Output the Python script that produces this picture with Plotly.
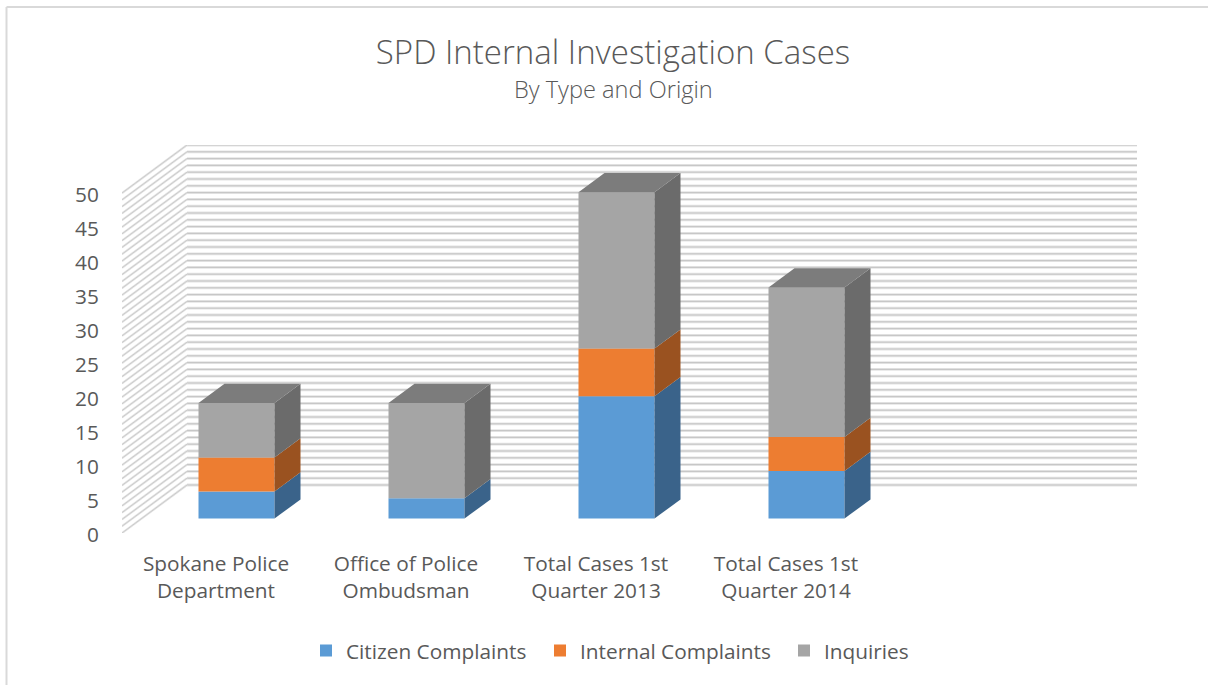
import numpy as np
import plotly.graph_objects as go

categories = ["Spokane Police<br>Department", "Office of Police<br>Ombudsman",
              "Total Cases 1st<br>Quarter 2013", "Total Cases 1st<br>Quarter 2014"]
citizen = [4, 3, 18, 7]
internal = [5, 0, 7, 5]
inquiries = [8, 14, 23, 22]
y_ticks = [0, 5, 10, 15, 20, 25, 30, 35, 40, 45, 50]
grid_values = list(range(0, 51))

series = [("Citizen Complaints", citizen, "#5B9BD5", "#3A638A", "legend", 306),
          ("Internal Complaints", internal, "#ED7D31", "#9A5220", "legend2", 540),
          ("Inquiries", inquiries, "#A5A5A5", "#6B6B6B", "legend3", 784)]

# pseudo-3D projection, in axis units
DX = 65 / 190      # x shift of whole floor depth
DY = 48 / 6.8      # y shift of whole floor depth
X0 = -0.5
X1 = X0 + 1015 / 190
BAR_W = 0.4
BAR_D = 0.4        # bar depth, fraction of the floor
FRONT = 0.3        # gap in front of the bar, fraction of the floor
TOP_COLOR = "#7C7C7C"
TEXT = "#595959"
FONT = "Open Sans"
FS = 20.8

fig = go.Figure()

# walls: one gridline per unit, a pale band with a finer darker core
back_x, back_y, side_x, side_y = [], [], [], []
for v in grid_values:
    back_x += [X0 + DX, X1, None]
    back_y += [v + DY, v + DY, None]
    side_x += [X0, X0 + DX, None]
    side_y += [v, v + DY, None]
for xs, ys, styles in ((back_x, back_y, (("#E4E4E4", 2.8), ("#C4C4C4", 1.0))),
                       (side_x, side_y, (("#E4E4E4", 2.2), ("#C8C8C8", 0.9)))):
    for col, w in styles:
        fig.add_trace(go.Scatter(x=xs, y=ys, mode="lines", showlegend=False, hoverinfo="skip",
                                 line=dict(color=col, width=w)))

idx = np.arange(len(categories))
bar_x = idx + FRONT * DX
offs = FRONT * DY
base = np.zeros(len(categories))

for name, vals, col, side, leg, _ in series:
    vals = np.array(vals, float)
    fig.add_trace(go.Bar(x=bar_x, y=vals, base=base + offs, width=BAR_W, name=name,
                         marker=dict(color=col, line=dict(width=0)),
                         xaxis="x2", yaxis="y2", legend=leg))
    for xc, b, v in zip(bar_x, base, vals):
        if v == 0:
            continue
        xr = xc + BAR_W / 2
        fig.add_trace(go.Scatter(
            x=[xr, xr + BAR_D * DX, xr + BAR_D * DX, xr, xr],
            y=[b + offs, b + offs + BAR_D * DY, b + v + offs + BAR_D * DY, b + v + offs, b + offs],
            mode="lines", fill="toself", fillcolor=side, line=dict(width=0),
            showlegend=False, hoverinfo="skip", xaxis="x2", yaxis="y2"))
    base = base + vals

for xc, top in zip(bar_x, base):
    xl, xr = xc - BAR_W / 2, xc + BAR_W / 2
    fig.add_trace(go.Scatter(
        x=[xl, xr, xr + BAR_D * DX, xl + BAR_D * DX, xl],
        y=[top + offs, top + offs, top + offs + BAR_D * DY, top + offs + BAR_D * DY, top + offs],
        mode="lines", fill="toself", fillcolor=TOP_COLOR, line=dict(width=0),
        showlegend=False, hoverinfo="skip", xaxis="x2", yaxis="y2"))

y_range = [0, 50 + DY]
x_range = [X0, X1]


def legend_at(px):
    return dict(orientation="h", x=px / 1208, xanchor="left", xref="container",
                yref="container", y=1 - 651 / 685, yanchor="middle",
                bgcolor="rgba(0,0,0,0)",
                font=dict(size=FS, color=TEXT, family=FONT), itemsizing="constant")


fig.update_layout(
    width=1208, height=685, autosize=False,
    margin=dict(l=122, r=71, t=145, b=152, autoexpand=False),
    paper_bgcolor="white", plot_bgcolor="rgba(0,0,0,0)",
    barmode="overlay",
    font=dict(family=FONT, color=TEXT, size=FS),
    title=dict(text="SPD Internal Investigation Cases",
               font=dict(size=33, color=TEXT, family=FONT, weight=300),
               x=613 / 1208, xanchor="center", xref="container",
               y=1 - 52 / 685, yanchor="middle", yref="container"),
    annotations=[dict(text="By Type and Origin", xref="paper", yref="paper",
                      x=(613 - 122) / 1015, y=1 + (145 - 89) / 388,
                      xanchor="center", yanchor="middle", showarrow=False,
                      font=dict(size=23.6, color=TEXT, family=FONT, weight=300))],
    xaxis=dict(range=x_range, tickmode="array", tickvals=list(idx), ticktext=categories,
               showgrid=False, zeroline=False, showline=False, ticks="outside", ticklen=12,
               automargin=False, ticklabelshift=-1,
               tickcolor="rgba(0,0,0,0)", tickfont=dict(size=FS, color=TEXT, family=FONT)),
    yaxis=dict(range=y_range, tickmode="array", tickvals=y_ticks, ticktext=[str(t) for t in y_ticks],
               showgrid=False, zeroline=False, showline=False, ticks="outside", ticklen=18,
               automargin=False, ticklabelshift=2,
               tickcolor="rgba(0,0,0,0)", tickfont=dict(size=FS, color=TEXT, family=FONT)),
    xaxis2=dict(range=x_range, overlaying="x", visible=False),
    yaxis2=dict(range=y_range, overlaying="y", visible=False),
    legend=legend_at(series[0][5]),
    legend2=legend_at(series[1][5]),
    legend3=legend_at(series[2][5]),
    shapes=[dict(type="line", xref="paper", yref="paper",
                 x0=-115.5 / 1015, x1=-115.5 / 1015, y0=-152 / 388, y1=1 + 138 / 388,
                 line=dict(color="#D9D9D9", width=2)),
            dict(type="line", xref="paper", yref="paper",
                 x0=-115.5 / 1015, x1=1 + 71 / 1015, y0=1 + 138 / 388, y1=1 + 138 / 388,
                 line=dict(color="#D9D9D9", width=2))],
)

fig.write_html("out.html", config=dict(displayModeBar=False),
               post_script="document.body.style.margin='0';")
